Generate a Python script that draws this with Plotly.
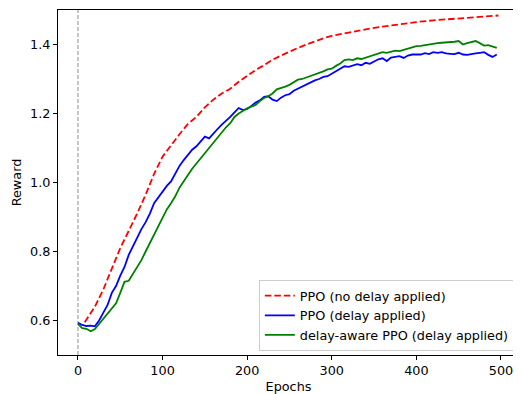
import plotly.graph_objects as go

# ---- data ----
epochs_red = [8, 10, 20, 30, 40, 50, 60, 70, 80, 90, 100, 110, 120, 130, 140, 150, 160, 170,
              180, 190, 200, 210, 220, 230, 240, 250, 260, 270, 280, 290, 300, 320, 340, 360,
              380, 400, 420, 440, 460, 480, 497]
reward_no_delay = [0.595, 0.603, 0.64, 0.69, 0.75, 0.81, 0.86, 0.91, 0.965, 1.025, 1.075, 1.108,
                   1.14, 1.17, 1.19, 1.218, 1.24, 1.258, 1.272, 1.292, 1.31, 1.326, 1.34, 1.356,
                   1.368, 1.38, 1.39, 1.4, 1.41, 1.418, 1.425, 1.435, 1.444, 1.452, 1.459, 1.465,
                   1.47, 1.473, 1.477, 1.481, 1.484]

epochs = list(range(0, 500, 5))
reward_delay = [0.593, 0.587, 0.584, 0.585, 0.583, 0.60, 0.623, 0.645, 0.68, 0.70,
                0.73, 0.755, 0.79, 0.815, 0.84, 0.865, 0.885, 0.91, 0.94, 0.957,
                0.975, 0.99, 1.003, 1.025, 1.048, 1.065, 1.08, 1.095, 1.105, 1.118,
                1.133, 1.128, 1.14, 1.155, 1.168, 1.178, 1.19, 1.203, 1.216, 1.21,
                1.213, 1.222, 1.232, 1.238, 1.248, 1.25, 1.24, 1.236, 1.246, 1.253,
                1.256, 1.266, 1.272, 1.28, 1.284, 1.29, 1.296, 1.30, 1.306, 1.308,
                1.315, 1.322, 1.328, 1.337, 1.335, 1.338, 1.343, 1.34, 1.347, 1.344,
                1.35, 1.357, 1.36, 1.352, 1.362, 1.364, 1.366, 1.361, 1.368, 1.371,
                1.372, 1.371, 1.375, 1.372, 1.378, 1.376, 1.378, 1.374, 1.373, 1.372,
                1.376, 1.371, 1.37, 1.371, 1.374, 1.376, 1.378, 1.37, 1.364, 1.371]
reward_delay_aware = [0.59, 0.578, 0.576, 0.569, 0.575, 0.59, 0.605, 0.62, 0.632, 0.65,
                      0.68, 0.712, 0.715, 0.735, 0.755, 0.775, 0.80, 0.825, 0.85, 0.873,
                      0.90, 0.922, 0.94, 0.96, 0.985, 1.005, 1.022, 1.04, 1.055, 1.07,
                      1.085, 1.103, 1.115, 1.13, 1.148, 1.16, 1.172, 1.19, 1.20, 1.208,
                      1.215, 1.22, 1.225, 1.236, 1.245, 1.25, 1.258, 1.27, 1.273, 1.278,
                      1.283, 1.29, 1.298, 1.30, 1.304, 1.31, 1.313, 1.318, 1.322, 1.328,
                      1.33, 1.338, 1.345, 1.355, 1.357, 1.355, 1.36, 1.358, 1.362, 1.368,
                      1.372, 1.376, 1.378, 1.376, 1.38, 1.382, 1.381, 1.385, 1.388, 1.392,
                      1.395, 1.396, 1.398, 1.402, 1.403, 1.404, 1.405, 1.406, 1.405, 1.408,
                      1.41, 1.40, 1.404, 1.408, 1.41, 1.404, 1.397, 1.398, 1.394, 1.39]

series_names = ["PPO (no delay applied)", "PPO (delay applied)", "delay-aware PPO (delay applied)"]
x_ticks = [0, 100, 200, 300, 400, 500]
y_ticks = [0.6, 0.8, 1.0, 1.2, 1.4]
start_epoch = 0

FONT = "DejaVu Sans"
FS = 12.8

fig = go.Figure()
fig.add_trace(go.Scatter(x=epochs_red, y=reward_no_delay, mode="lines", name=series_names[0],
                         line=dict(color="#ff0000", width=1.8, dash="6.5px,3px")))
fig.add_trace(go.Scatter(x=epochs, y=reward_delay, mode="lines", name=series_names[1],
                         line=dict(color="#0000ff", width=1.8)))
fig.add_trace(go.Scatter(x=epochs, y=reward_delay_aware, mode="lines", name=series_names[2],
                         line=dict(color="#008000", width=1.8)))

fig.add_shape(type="line", x0=start_epoch, x1=start_epoch, y0=0, y1=1, xref="x", yref="paper",
              line=dict(color="#808080", width=0.9, dash="4px,2px"), layer="below")

axis_common = dict(showgrid=False, zeroline=False, showline=True, linecolor="black", linewidth=1,
                   mirror=True, ticks="outside", ticklen=4, tickwidth=1, tickcolor="black",
                   tickfont=dict(family=FONT, size=FS, color="black"))

# page body has an 8px margin: shrink the figure so the plot area lands where the reference has it
fig.update_layout(
    width=513, height=386,
    margin=dict(l=50, r=2, t=2, b=39, autoexpand=False),
    paper_bgcolor="white", plot_bgcolor="white",
    font=dict(family=FONT, size=FS, color="black"),
    xaxis=dict(range=[-23.6, 521.3], tickvals=x_ticks,
               title=dict(text="Epochs", font=dict(family=FONT, size=FS), standoff=4),
               **axis_common),
    yaxis=dict(range=[0.5, 1.5], tickvals=y_ticks, tickformat=".1f",
               title=dict(text="Reward", font=dict(family=FONT, size=FS), standoff=5),
               **axis_common),
    legend=dict(x=0.991, y=0.012, xanchor="right", yanchor="bottom",
                bgcolor="rgba(255,255,255,0.8)", bordercolor="#cccccc", borderwidth=1,
                font=dict(family=FONT, size=FS), itemwidth=30, tracegroupgap=0),
    showlegend=True,
)

fig.write_html("out.html")
